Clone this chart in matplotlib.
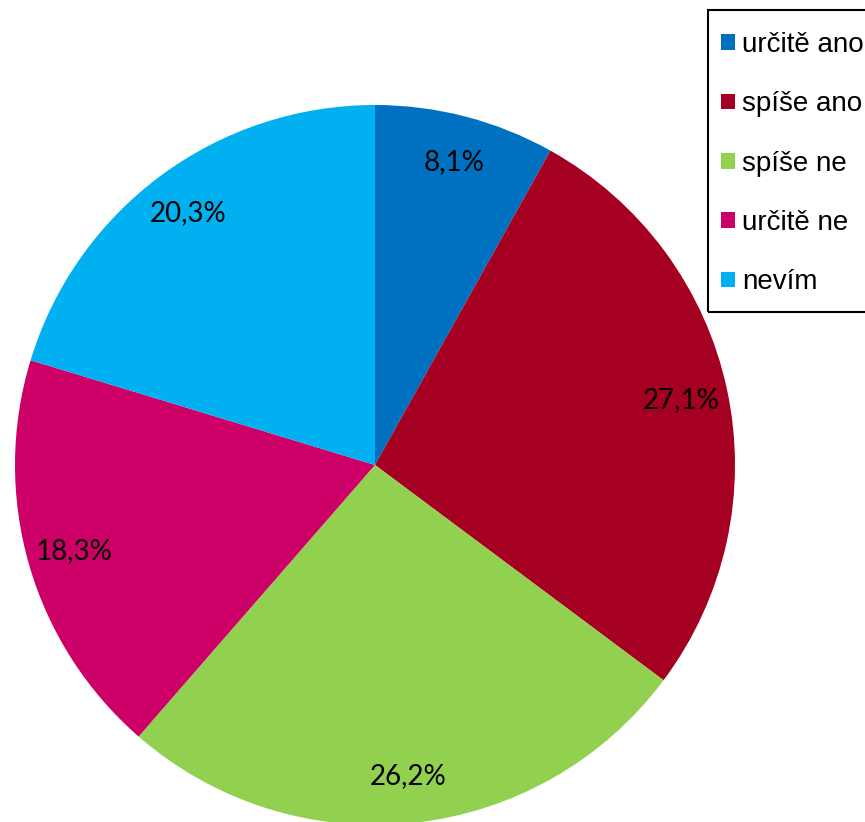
import matplotlib.pyplot as plt
from matplotlib.patches import Rectangle

# data
kategorie = ['určitě ano', 'spíše ano', 'spíše ne', 'určitě ne', 'nevím']
hodnoty = [8.1, 27.1, 26.2, 18.3, 20.3]
barvy = ['#0070C0', '#A50021', '#92D050', '#CC0066', '#00B0F0']

fig = plt.figure(figsize=(8.65, 8.22), dpi=100)
# pie axes: center (375, 465) px, radius 360 px
W, H = 865, 822
cx, cy, r = 375, 465, 360
ax = fig.add_axes([(cx - r) / W, (H - cy - r) / H, 2 * r / W, 2 * r / H])

wedges, texts = ax.pie(hodnoty, colors=barvy, startangle=90, counterclock=False,
                       radius=1, labels=[('%.1f%%' % v).replace('.', ',') for v in hodnoty],
                       labeldistance=0.87,
                       textprops=dict(fontsize=20, family='Lato', color='black'))
for t in texts:
    t.set_ha('center')
    t.set_va('center')
ax.set_xlim(-1, 1)
ax.set_ylim(-1, 1)
ax.set_aspect('equal')
ax.axis('off')

# legenda bez ramecku, ramecek zvlast
leg = fig.legend(wedges, kategorie, loc='upper left',
                 bbox_to_anchor=(721 / W, 1 - 32 / H), borderaxespad=0,
                 prop=dict(family='Liberation Sans', size=20),
                 frameon=False, handlelength=0.5, handleheight=0.5,
                 handletextpad=0.25, borderpad=0, labelspacing=1.2)
fig.patches.append(Rectangle((708 / W, 1 - 312 / H), 170 / W, 302 / H,
                             transform=fig.transFigure, fill=False,
                             edgecolor='black', linewidth=1.5))

fig.savefig('out.png', dpi=100)
